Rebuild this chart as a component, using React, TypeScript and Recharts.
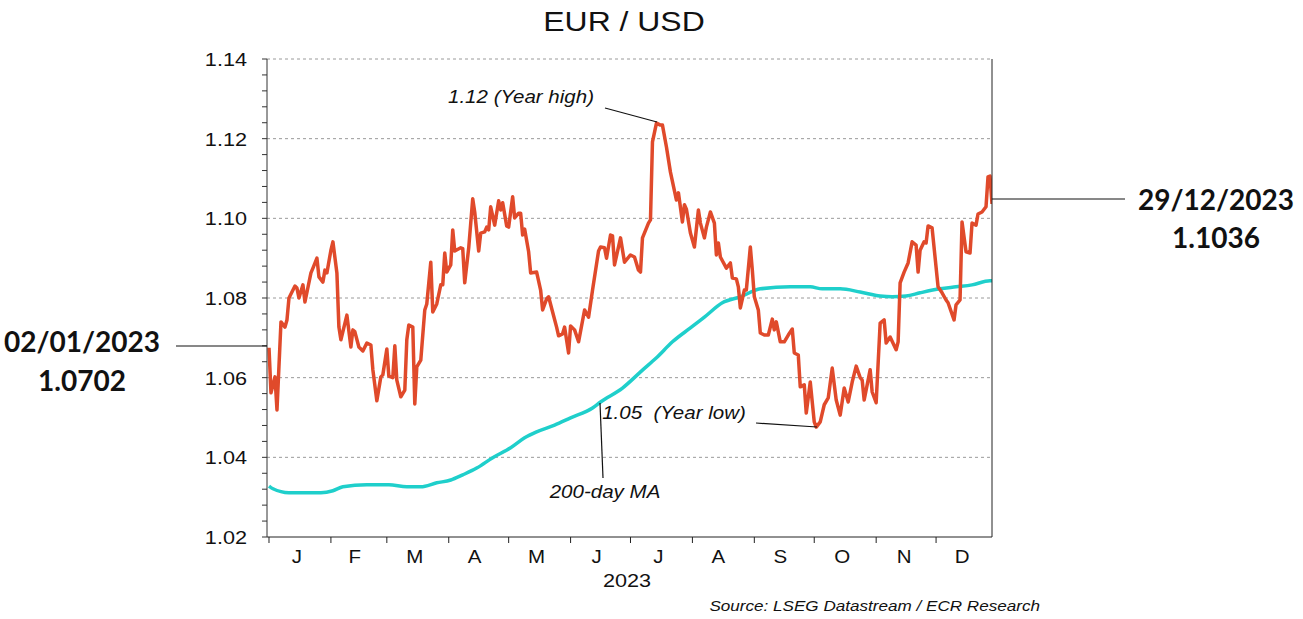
import { LineChart, Line, XAxis, YAxis, ReferenceLine } from 'recharts';

// EUR/USD daily close, x = day of year 2023 (0 = 1 Jan)
const eurDays = [
  0, 1, 3, 4, 6, 8, 9, 10, 13, 14, 15, 17, 18, 21, 22, 24, 25, 27, 28, 29,
  31, 32, 34, 35, 36, 39, 41, 42, 43, 45, 47, 49, 51, 52, 54, 56, 57, 59, 60, 62,
  63, 64, 66, 68, 69, 70, 72, 73, 74, 76, 78, 79, 81, 82, 84, 86, 87, 88, 89, 91,
  92, 93, 96, 97, 98, 100, 102, 103, 105, 106, 108, 109, 110, 111, 113, 115, 116, 117, 119, 120,
  122, 123, 125, 126, 127, 128, 130, 131, 134, 136, 137, 139, 140, 142, 144, 145, 147, 148, 150, 151,
  153, 155, 158, 160, 162, 165, 166, 168, 169, 171, 172, 173, 176, 178, 181, 183, 185, 186, 187, 190,
  191, 192, 194, 196, 197, 199, 201, 204, 205, 207, 208, 209, 211, 213, 215, 216, 218, 219, 221, 223,
  224, 225, 226, 229, 231, 232, 234, 235, 236, 238, 239, 241, 242, 243, 245, 246, 248, 250, 252, 253,
  254, 256, 258, 260, 262, 263, 265, 266, 268, 269, 271, 273, 274, 276, 278, 280, 282, 284, 286, 288,
  290, 292, 294, 296, 297, 298, 301, 302, 304, 306, 308, 309, 311, 314, 315, 316, 318, 320, 322, 324,
  325, 326, 328, 329, 330, 332, 335, 337, 339, 340, 343, 344, 346, 347, 349, 351, 352, 354, 355, 357,
  359, 360, 361, 362,
];
const eurValues = [
  1.0675, 1.0562, 1.0602, 1.0519, 1.074, 1.0727, 1.0745, 1.08, 1.083, 1.0825, 1.08, 1.0833, 1.079, 1.0863, 1.0875, 1.09, 1.0853, 1.084, 1.087, 1.0863,
  1.092, 1.0941, 1.0863, 1.0727, 1.0695, 1.0757, 1.0677, 1.072, 1.0715, 1.0677, 1.0667, 1.0687, 1.0682, 1.062, 1.0542, 1.0602, 1.0607, 1.0672, 1.0604, 1.06,
  1.068, 1.0594, 1.0552, 1.0569, 1.0695, 1.0732, 1.0727, 1.0534, 1.0627, 1.0644, 1.077, 1.0785, 1.089, 1.0765, 1.0785, 1.0833, 1.0833, 1.0913, 1.0865, 1.0883,
  1.0971, 1.0918, 1.0926, 1.0924, 1.0838, 1.0926, 1.1049, 1.1016, 1.0918, 1.0963, 1.0966, 1.0978, 1.0971, 1.1029, 1.0983, 1.1044, 1.1021, 1.1039, 1.0981, 1.0978,
  1.1054, 1.1001, 1.1013, 1.1013, 1.0958, 1.0973, 1.0916, 1.0863, 1.0865, 1.082, 1.077, 1.0798, 1.0803, 1.0765, 1.0727, 1.0705, 1.071, 1.0727, 1.0662, 1.073,
  1.072, 1.069, 1.077, 1.0752, 1.082, 1.0918, 1.0928, 1.0926, 1.09, 1.0958, 1.0956, 1.0883, 1.0951, 1.089, 1.0908, 1.0903, 1.087, 1.0865, 1.0951, 1.0988,
  1.0996, 1.1192, 1.1239, 1.1234, 1.1234, 1.1179, 1.1116, 1.1046, 1.1064, 1.0991, 1.1034, 1.1023, 1.0963, 1.0928, 1.1021, 1.0988, 1.0951, 1.0978, 1.1016, 1.0988,
  1.0908, 1.0938, 1.0903, 1.0875, 1.0888, 1.085, 1.0848, 1.0828, 1.0775, 1.082, 1.082, 1.0928, 1.087, 1.0803, 1.077, 1.0712, 1.0707, 1.0707, 1.0747, 1.072,
  1.074, 1.069, 1.069, 1.0707, 1.0722, 1.0662, 1.0657, 1.0577, 1.0582, 1.0511, 1.0589, 1.0489, 1.0476, 1.0489, 1.0532, 1.0549, 1.0624, 1.0544, 1.0506, 1.0574,
  1.0539, 1.0589, 1.0629, 1.06, 1.0594, 1.0544, 1.062, 1.0564, 1.0537, 1.0737, 1.0745, 1.0687, 1.0702, 1.067, 1.069, 1.0838, 1.0865, 1.0888, 1.0941, 1.0933,
  1.0865, 1.092, 1.0941, 1.0938, 1.0981, 1.0976, 1.0828, 1.0813, 1.0795, 1.0788, 1.0745, 1.0783, 1.0795, 1.0991, 1.0916, 1.0913, 1.0988, 1.0983, 1.1011, 1.1016,
  1.1029, 1.1104, 1.1106, 1.1036,
];

// 200-day moving average
const maDays = [
  0, 2, 10, 26, 32, 37, 49, 60, 69, 76, 84, 91, 97, 104, 112, 121, 128, 134, 143, 151,
  162, 166, 177, 187, 194, 202, 211, 218, 227, 236, 246, 261, 271, 277, 286, 296, 306, 312, 319, 326,
  336, 344, 352, 361, 362,
];
const maValues = [
  1.0328, 1.0321, 1.0311, 1.0311, 1.0316, 1.0326, 1.0331, 1.0331, 1.0326, 1.0326, 1.0336, 1.0343, 1.0356, 1.0373, 1.0399, 1.0424, 1.0449, 1.0464, 1.0481, 1.0499,
  1.0524, 1.0539, 1.0574, 1.0619, 1.065, 1.069, 1.0725, 1.0752, 1.0788, 1.0803, 1.0823, 1.0828, 1.0828, 1.0823, 1.0823, 1.0815, 1.0805, 1.0803, 1.0805, 1.0813,
  1.0823, 1.0828, 1.0833, 1.0843, 1.0843,
];

const monthStartDays = [0, 31, 59, 90, 120, 151, 181, 212, 243, 273, 304, 334];
const monthLabelDays = [14, 43, 73, 103, 134, 164, 195, 225, 256, 287, 318, 347];
const monthLabels = ['J', 'F', 'M', 'A', 'M', 'J', 'J', 'A', 'S', 'O', 'N', 'D'];
const yMajorTicks = [1.02, 1.04, 1.06, 1.08, 1.1, 1.12, 1.14];
const yearLabel = '2023';

const FONT = '"Liberation Sans", Arial, sans-serif';
const BOLD_FONT = 'Lato, sans-serif';
const RED = '#e04a2b';
const CYAN = '#1fcfcb';
const STRETCH = 1.14; // the source's type is a bit wide

const eurData = eurDays.map((d, i) => ({ day: d, value: eurValues[i] }));
const maData = maDays.map((d, i) => ({ day: d, value: maValues[i] }));

// minor ticks every 0.004 between the majors
const yAllTicks = yMajorTicks.flatMap((t, i) =>
  i === 0 ? [t] : [1, 2, 3, 4, 5].map(k => +(yMajorTicks[i - 1] + k * 0.004).toFixed(3))
);
const xTicks = [...monthStartDays, ...monthLabelDays].sort((a, b) => a - b);

const isMajor = (v: number) => Math.abs(v * 50 - Math.round(v * 50)) < 1e-6;

// wide text: scaled horizontally around its anchor point
const WText = ({ x, y, anchor = 'middle', size, italic, sx = STRETCH, children }: any) => (
  <text
    transform={`translate(${x} ${y}) scale(${sx} 1)`}
    textAnchor={anchor}
    fontSize={size}
    fontStyle={italic ? 'italic' : 'normal'}
    fontFamily={FONT}
    fill="#111"
    style={{ whiteSpace: 'pre' }}
  >
    {children}
  </text>
);

const YTick = ({ x, y, payload, textAnchor }: any) => {
  if (!isMajor(payload.value)) return <g />;
  return (
    <WText x={x} y={y + 7} anchor={textAnchor} size={19}>
      {payload.value.toFixed(2)}
    </WText>
  );
};

const XTick = ({ x, y, payload }: any) => {
  const v = payload.value;
  const li = monthLabelDays.indexOf(v);
  if (li >= 0) {
    return (
      <WText x={x} y={y + 26} size={19} sx={1.08}>
        {monthLabels[li]}
      </WText>
    );
  }
  return <line x1={x} y1={y} x2={x} y2={y + 6} stroke="#222" strokeWidth={1} />;
};

export default function App() {
  return (
    <div style={{ position: 'absolute', left: 0, top: 0, width: 1303, height: 619, background: '#fff', fontFamily: FONT }}>
      <LineChart width={1303} height={619} margin={{ top: 59, right: 251, left: 207, bottom: 31 }}>
        <XAxis
          type="number"
          dataKey="day"
          domain={[-1, 362]}
          allowDataOverflow
          ticks={xTicks}
          interval={0}
          tick={<XTick />}
          tickLine={false}
          tickSize={0}
          tickMargin={0}
          height={51}
          axisLine={{ stroke: '#222' }}
        />
        <YAxis
          yAxisId="left"
          orientation="left"
          type="number"
          domain={[1.02, 1.14]}
          ticks={yAllTicks}
          interval={0}
          width={60}
          tickSize={5}
          tickMargin={15}
          tick={<YTick />}
          tickLine={{ stroke: '#333' }}
          axisLine={{ stroke: '#333' }}
        />
        <YAxis
          yAxisId="right"
          orientation="right"
          type="number"
          domain={[1.02, 1.14]}
          ticks={yAllTicks}
          interval={0}
          width={60}
          tickSize={5}
          tickMargin={13}
          tick={<YTick />}
          tickLine={{ stroke: '#222' }}
          axisLine={{ stroke: '#222' }}
        />
        {yMajorTicks.slice(1).map(t => (
          <ReferenceLine key={t} yAxisId="left" y={t} stroke="#9a9a9a" strokeDasharray="3 3" strokeWidth={1} />
        ))}
        <Line
          yAxisId="left"
          data={maData}
          dataKey="value"
          type="monotone"
          stroke={CYAN}
          strokeWidth={3.5}
          dot={false}
          isAnimationActive={false}
        />
        <Line
          yAxisId="left"
          data={eurData}
          dataKey="value"
          type="linear"
          stroke={RED}
          strokeWidth={3.5}
          strokeLinejoin="round"
          dot={false}
          isAnimationActive={false}
        />
      </LineChart>

      <svg width={1303} height={619} style={{ position: 'absolute', left: 0, top: 0, pointerEvents: 'none' }}>
        <WText x={624} y={31} size={28}>EUR / USD</WText>
        <WText x={627} y={587} size={19}>{yearLabel}</WText>

        <line x1={176} y1={346} x2={267} y2={346} stroke="#111" strokeWidth={1} />
        <text x={82} y={352} textAnchor="middle" fontSize={28} fontWeight={700} fontFamily={BOLD_FONT} fill="#111">02/01/2023</text>
        <text x={82} y={391} textAnchor="middle" fontSize={28} fontWeight={700} fontFamily={BOLD_FONT} fill="#111">1.0702</text>

        <line x1={992} y1={199} x2={1125} y2={199} stroke="#111" strokeWidth={1} />
        <text x={1216} y={210} textAnchor="middle" fontSize={28} fontWeight={700} fontFamily={BOLD_FONT} fill="#111">29/12/2023</text>
        <text x={1216} y={248} textAnchor="middle" fontSize={28} fontWeight={700} fontFamily={BOLD_FONT} fill="#111">1.1036</text>

        <WText x={521} y={103} size={18} italic>1.12 (Year high)</WText>
        <line x1={605} y1={108} x2={657} y2={122} stroke="#111" strokeWidth={1.2} />

        <WText x={674} y={419} size={18} italic>{'1.05  (Year low)'}</WText>
        <line x1={756} y1={423} x2={817} y2={427} stroke="#111" strokeWidth={1.2} />

        <line x1={600} y1={403} x2={603} y2={478} stroke="#111" strokeWidth={1.2} />
        <WText x={605} y={498} size={18} italic>200-day MA</WText>

        <WText x={1040} y={611} anchor="end" size={15}>
          <tspan fontStyle="italic">Source: LSEG Datastream / ECR Research</tspan>
        </WText>
      </svg>
    </div>
  );
}
